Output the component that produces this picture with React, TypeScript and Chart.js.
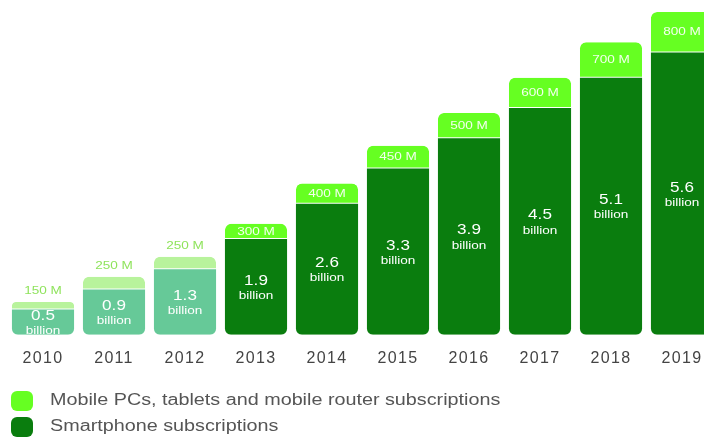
import React, { useEffect, useRef } from 'react';
import { Chart, registerables } from 'chart.js';

Chart.register(...registerables);

const years = ['2010', '2011', '2012', '2013', '2014', '2015', '2016', '2017', '2018', '2019'];
const smartphoneValues = [0.5, 0.9, 1.3, 1.9, 2.6, 3.3, 3.9, 4.5, 5.1, 5.6];
const mobilePcValues = [0.15, 0.25, 0.25, 0.3, 0.4, 0.45, 0.5, 0.6, 0.7, 0.8];
const smartphoneLabels = ['0.5', '0.9', '1.3', '1.9', '2.6', '3.3', '3.9', '4.5', '5.1', '5.6'];
const mobilePcLabels = ['150 M', '250 M', '250 M', '300 M', '400 M', '450 M', '500 M', '600 M', '700 M', '800 M'];
const unitLabel = 'billion';
const legendLabels = ['Mobile PCs, tablets and mobile router subscriptions', 'Smartphone subscriptions'];
const earlyYears = ['2010', '2011', '2012'];

const FONT = '"Liberation Sans", Arial, Helvetica, sans-serif';
const DARK = '#0a7d0e';
const BRIGHT = '#66ff22';
const TEAL = '#66c998';
const PALE = '#b8f39c';
const PALE_TEXT = '#8fe35c';
const STRETCH = 1.18;
const LEGEND_STRETCH = 1.235;

const W = 720;
const H = 437;

function drawText(ctx: CanvasRenderingContext2D, txt: string, x: number, y: number, sx = STRETCH) {
  ctx.save();
  ctx.translate(x, y);
  ctx.scale(sx, 1);
  ctx.fillText(txt, 0, 0);
  ctx.restore();
}

const spacingPlugin = {
  id: 'tickSpacing',
  beforeDraw(chart: any) {
    (chart.ctx as any).letterSpacing = '1.3px';
  },
  afterDraw(chart: any) {
    (chart.ctx as any).letterSpacing = '0px';
  },
};

const labelPlugin = {
  id: 'barLabels',
  afterDatasetsDraw(chart: any) {
    const ctx = chart.ctx as CanvasRenderingContext2D;
    const m0 = chart.getDatasetMeta(0);
    const m1 = chart.getDatasetMeta(1);
    ctx.save();
    (ctx as any).letterSpacing = '0px';
    ctx.textAlign = 'center';
    ctx.textBaseline = 'middle';
    m0.data.forEach((bar: any, i: number) => {
      const { x, y, base } = bar.getProps(['x', 'y', 'base'], true);
      const mid = (y + base) / 2;
      ctx.fillStyle = '#ffffff';
      ctx.font = `14.5px ${FONT}`;
      drawText(ctx, smartphoneLabels[i], x, mid - 6);
      ctx.font = `11.5px ${FONT}`;
      drawText(ctx, unitLabel, x, mid + 9);
    });
    m1.data.forEach((bar: any, i: number) => {
      const { x, y, base } = bar.getProps(['x', 'y', 'base'], true);
      ctx.font = `11.5px ${FONT}`;
      if (earlyYears.includes(years[i])) {
        ctx.fillStyle = PALE_TEXT;
        drawText(ctx, mobilePcLabels[i], x, y - 11);
      } else {
        ctx.fillStyle = 'rgba(255,255,255,0.92)';
        drawText(ctx, mobilePcLabels[i], x, (y + base) / 2);
      }
    });
    // legend
    const legendColors = [BRIGHT, DARK];
    const rows = [401, 427];
    legendLabels.forEach((txt, i) => {
      ctx.fillStyle = legendColors[i];
      ctx.beginPath();
      (ctx as any).roundRect(11, rows[i] - 10, 22, 20, 6);
      ctx.fill();
      ctx.fillStyle = '#555555';
      ctx.textAlign = 'left';
      ctx.font = `16px ${FONT}`;
      drawText(ctx, txt, 50, rows[i], LEGEND_STRETCH);
    });
    ctx.restore();
  },
};

export default function App() {
  const ref = useRef<HTMLCanvasElement | null>(null);
  useEffect(() => {
    if (!ref.current) return;
    const chart = new Chart(ref.current, {
      type: 'bar',
      data: {
        labels: years,
        datasets: [
          {
            label: legendLabels[1],
            data: smartphoneValues,
            backgroundColor: years.map((yr) => (earlyYears.includes(yr) ? TEAL : DARK)),
            borderRadius: { topLeft: 0, topRight: 0, bottomLeft: 6, bottomRight: 6 },
            borderSkipped: false,
            borderWidth: 0,
          },
          {
            label: legendLabels[0],
            data: mobilePcValues,
            backgroundColor: years.map((yr) => (earlyYears.includes(yr) ? PALE : BRIGHT)),
            borderColor: '#ffffff',
            borderWidth: { top: 0, left: 0, right: 0, bottom: 1 },
            borderRadius: { topLeft: 6, topRight: 6, bottomLeft: 0, bottomRight: 0 },
            borderSkipped: false,
          },
        ],
      },
      options: {
        responsive: false,
        animation: false,
        devicePixelRatio: 1,
        categoryPercentage: 1,
        barPercentage: 0.875,
        layout: { padding: { left: 7.5, right: W - 717.5, top: 0, bottom: 55 } },
        plugins: { legend: { display: false }, tooltip: { enabled: false } },
        scales: {
          x: {
            stacked: true,
            grid: { display: false, drawTicks: false },
            border: { display: false },
            ticks: {
              color: '#444444',
              font: { size: 16, family: FONT },
              padding: 14,
              maxRotation: 0,
              autoSkip: false,
            },
          },
          y: { stacked: true, display: false, min: 0, max: 6.64 },
        },
      },
      plugins: [spacingPlugin, labelPlugin],
    } as any);
    return () => chart.destroy();
  }, []);
  return (
    <div style={{ position: 'fixed', left: 0, top: 0, width: 704, height: 437, overflow: 'hidden', background: '#fff' }}>
      <canvas ref={ref} width={W} height={H} style={{ width: W, height: H, display: 'block' }} />
    </div>
  );
}
